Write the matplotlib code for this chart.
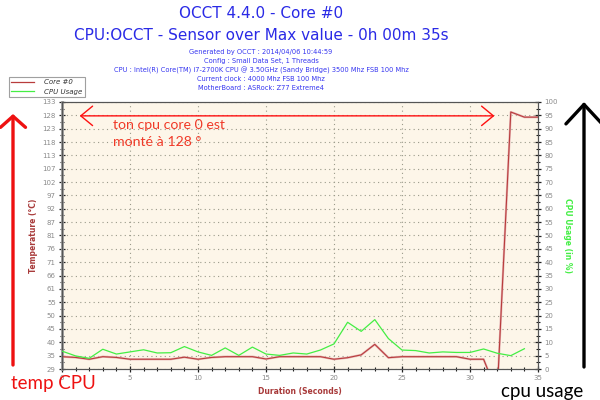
import matplotlib.pyplot as plt
from matplotlib.ticker import FixedLocator, MultipleLocator
from matplotlib.lines import Line2D

# data
seconds = list(range(36))
core0 = [34.2, 33.9, 33.2, 34.2, 33.9, 33.2, 33.2, 33.2, 33.2, 34.0,
         33.2, 33.9, 34.2, 34.2, 34.2, 33.3, 34.2, 34.2, 34.2, 34.2,
         33.2, 33.8, 34.9, 39.0, 33.8, 34.2, 34.2, 34.2, 34.2, 34.2,
         33.2, 33.2, 20.0, 129.5, 127.5, 127.5]
usage_seconds = list(range(35))
cpu_usage = [6.7, 4.9, 4.0, 7.4, 5.6, 6.4, 7.2, 6.0, 6.1, 8.4,
             6.4, 5.1, 7.9, 5.1, 8.2, 5.6, 5.1, 6.0, 5.6, 7.1,
             9.4, 17.5, 14.1, 18.5, 11.4, 7.1, 6.9, 6.0, 6.4, 6.2,
             6.2, 7.5, 5.9, 5.0, 7.6]

temp_labels = ['29', '35', '40', '45', '50', '55', '61', '66', '71', '76', '81',
               '87', '92', '97', '102', '107', '113', '118', '123', '128', '133']
temp_min, temp_step = 29.4, 5.2

title1 = 'OCCT 4.4.0 - Core #0'
title2 = 'CPU:OCCT - Sensor over Max value - 0h 00m 35s'
info = ['Generated by OCCT : 2014/04/06 10:44:59',
        'Config : Small Data Set, 1 Threads',
        'CPU : Intel(R) Core(TM) i7-2700K CPU @ 3.50GHz (Sandy Bridge) 3500 Mhz FSB 100 Mhz',
        'Current clock : 4000 Mhz FSB 100 Mhz',
        'MotherBoard : ASRock: Z77 Extreme4']

red = '#b83c3c'
green = '#44ee44'
blue = '#2a2ae6'
tick_grey = '#8a8a8a'

fig = plt.figure(figsize=(6, 4), dpi=100)
ax = fig.add_axes([62/600, 31/400, 476/600, 267/400])
ax.set_facecolor('#fdf6e9')
ax2 = ax.twinx()

temp_ticks = [temp_min + temp_step*k for k in range(len(temp_labels))]

# lines
ax.plot(seconds, core0, color='#e6b4b4', lw=1.6, solid_capstyle='butt', zorder=2)
ax.plot(seconds, core0, color=red, lw=0.8, zorder=3)
ax2.plot(usage_seconds, cpu_usage, color=green, lw=0.9, zorder=3)

ax.set_xlim(0, 35)
ax.set_ylim(temp_ticks[0], temp_ticks[-1])
ax2.set_ylim(0, 100)

ax.xaxis.set_major_locator(MultipleLocator(5))
ax.xaxis.set_minor_locator(MultipleLocator(1))
ax.yaxis.set_major_locator(FixedLocator(temp_ticks))
ax.set_yticklabels(temp_labels)
ax.yaxis.set_minor_locator(FixedLocator([t + temp_step/2 for t in temp_ticks[:-1]]))
ax2.yaxis.set_major_locator(MultipleLocator(5))
ax2.yaxis.set_minor_locator(MultipleLocator(2.5))

ax.grid(True, which='major', color='#9a9a8a', ls=(0, (1, 3)), lw=0.8)

for a in (ax, ax2):
    a.tick_params(which='major', labelsize=5, labelcolor=tick_grey, length=5,
                  width=0.9, direction='inout', color='#222222', pad=2)
    a.tick_params(which='minor', length=3, width=0.8, direction='inout', color='#222222')
    for s in a.spines.values():
        s.set_color('#555555')
        s.set_linewidth(0.8)
ax.spines['left'].set_color('#999999')
ax.spines['left'].set_linewidth(2)

ax.set_xlabel('Duration (Seconds)', fontsize=5.5, fontweight='bold', color='#a83a3a', labelpad=4)
ax.set_ylabel('Temperature (\u00b0C)', fontsize=5.5, fontweight='bold', color='#a83a3a', labelpad=3)
ax2.set_ylabel('CPU Usage (in %)', fontsize=5.5, fontweight='bold', color=green,
               rotation=-90, labelpad=10)

# titles
cx = 261/600
fig.text(cx, 1 - 14/400, title1, ha='center', va='center', fontsize=11, color=blue)
fig.text(cx, 1 - 35/400, title2, ha='center', va='center', fontsize=11, color=blue)
for i, line in enumerate(info):
    fig.text(cx, 1 - (52 + 9*i)/400, line, ha='center', va='center', fontsize=4.8, color='#3535f0')

# legend
handles = [Line2D([], [], color=red, lw=0.9), Line2D([], [], color=green, lw=0.9)]
leg = fig.legend(handles, ['Core #0', 'CPU Usage'], loc='upper left',
                 bbox_to_anchor=(9/600, 1 - 77/400),
                 prop={'style': 'italic', 'size': 5}, frameon=True, fancybox=False,
                 shadow=False, handlelength=3.2, borderpad=0.35, labelspacing=0.5,
                 handletextpad=1.5, borderaxespad=0)
leg.get_frame().set_edgecolor('#888888')
leg.get_frame().set_linewidth(0.8)
for t in leg.get_texts():
    t.set_color('#333333')

# hand drawn notes
ax.annotate('', xy=(1.3, 128), xytext=(31.8, 128),
            arrowprops=dict(arrowstyle='<->, head_length=0.85, head_width=0.7',
                            color='#ff1010', lw=1, mutation_scale=10,
                            shrinkA=0, shrinkB=0))
ax.text(3.75, 126.9, 'ton cpu core 0 est\nmont\u00e9 \u00e0 128 \u00b0', fontsize=10.2,
        family='Lato', color='#f03a28', va='top', ha='left', linespacing=1.5)

ov = fig.add_axes([0, 0, 1, 1])
ov.set_xlim(0, 600)
ov.set_ylim(400, 0)
ov.axis('off')
ov.patch.set_alpha(0)
ov.annotate('', xy=(13, 114), xytext=(13, 365),
            arrowprops=dict(arrowstyle='->, head_length=0.8, head_width=0.9',
                            color='#ee1111', lw=2.4, mutation_scale=10,
                            shrinkA=0, shrinkB=0))
ov.annotate('', xy=(584, 367), xytext=(584, 102),
            arrowprops=dict(arrowstyle='<-, head_length=1.4, head_width=1.3',
                            color='black', lw=2.4, mutation_scale=10,
                            shrinkA=0, shrinkB=0))
ov.text(11, 384, 'temp CPU', fontsize=13.5, family='Lato', color='#ee1111', va='center', ha='left')
ov.text(501, 391, 'cpu usage', fontsize=13.5, family='Lato', color='black', va='center', ha='left')

fig.savefig('out.png', dpi=100)
